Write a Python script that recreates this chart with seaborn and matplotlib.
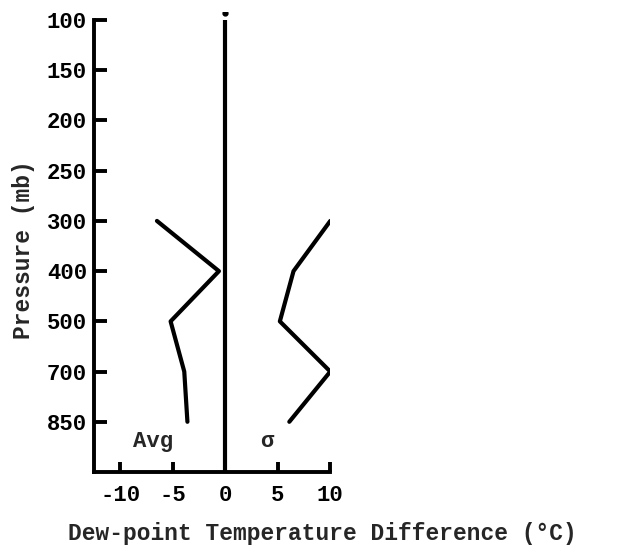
import matplotlib
matplotlib.use("Agg")
import matplotlib.pyplot as plt
import seaborn as sns
import pandas as pd

# Pressure levels (mb), plotted at evenly spaced positions
levels = [100, 150, 200, 250, 300, 400, 500, 700, 850]
profile_levels = [300, 400, 500, 700, 850]
avg_diff = [-6.5, -0.6, -5.2, -3.9, -3.6]
sigma_diff = [10.0, 6.5, 5.2, 10.0, 6.1]
x_ticks = [-10, -5, 0, 5, 10]

sns.set_theme(style="white")
plt.rcParams["font.family"] = ["Liberation Mono", "DejaVu Sans Mono"]
plt.rcParams["font.weight"] = "bold"
plt.rcParams["axes.labelweight"] = "bold"

pos = {lev: i for i, lev in enumerate(levels)}
df = pd.DataFrame({
    "level": profile_levels * 2,
    "pos": [pos[l] for l in profile_levels] * 2,
    "diff": avg_diff + sigma_diff,
    "stat": ["Avg"] * len(avg_diff) + ["σ"] * len(sigma_diff),
})

fig = plt.figure(figsize=(6.22, 5.46), dpi=100)
ax = fig.add_axes([0.151, 0.1355, 0.380, 0.8425])

sns.lineplot(data=df, x="diff", y="pos", units="stat", estimator=None,
             sort=False, orient="y", color="black", linewidth=3.0, ax=ax)

# zero reference line
ax.plot([0, 0], [9, 0.0], color="black", linewidth=3.0, solid_capstyle="butt")
ax.plot([0], [-0.14], marker="o", markersize=3.5, color="black")

ax.set_xlim(-12.5, 10)
ax.set_ylim(9, -0.16)
ax.set_yticks(range(len(levels)))
ax.set_yticklabels([str(l) for l in levels])
ax.set_xticks(x_ticks)
ax.set_xticklabels([str(t) for t in x_ticks])

for side in ["top", "right"]:
    ax.spines[side].set_visible(False)
for side in ["left", "bottom"]:
    ax.spines[side].set_linewidth(2.8)
    ax.spines[side].set_color("black")
ax.spines["left"].set_bounds(9, 0)
ax.spines["bottom"].set_bounds(-12.5, 10)

ax.tick_params(axis="y", direction="in", length=9, width=2.8, pad=5,
               labelsize=16, colors="black", left=True)
ax.tick_params(axis="x", direction="in", length=7, width=2.8, pad=9,
               labelsize=16, colors="black", bottom=True)
for lab in ax.get_xticklabels() + ax.get_yticklabels():
    lab.set_clip_on(False)

ax.text(-6.9, 8.4, "Avg", fontsize=16, ha="center", va="center")
ax.text(4.0, 8.4, "σ", fontsize=16, ha="center", va="center")

ax.set_xlabel("Dew-point Temperature Difference (°C)", fontsize=16.5)
ax.xaxis.set_label_coords(0.966, -0.133)
ax.xaxis.label.set_va("center")
ax.set_ylabel("Pressure (mb)", fontsize=16.5)
ax.yaxis.set_label_coords(-0.30, 0.483)
ax.yaxis.label.set_va("center")

fig.savefig("out.png", dpi=100, facecolor="white")
